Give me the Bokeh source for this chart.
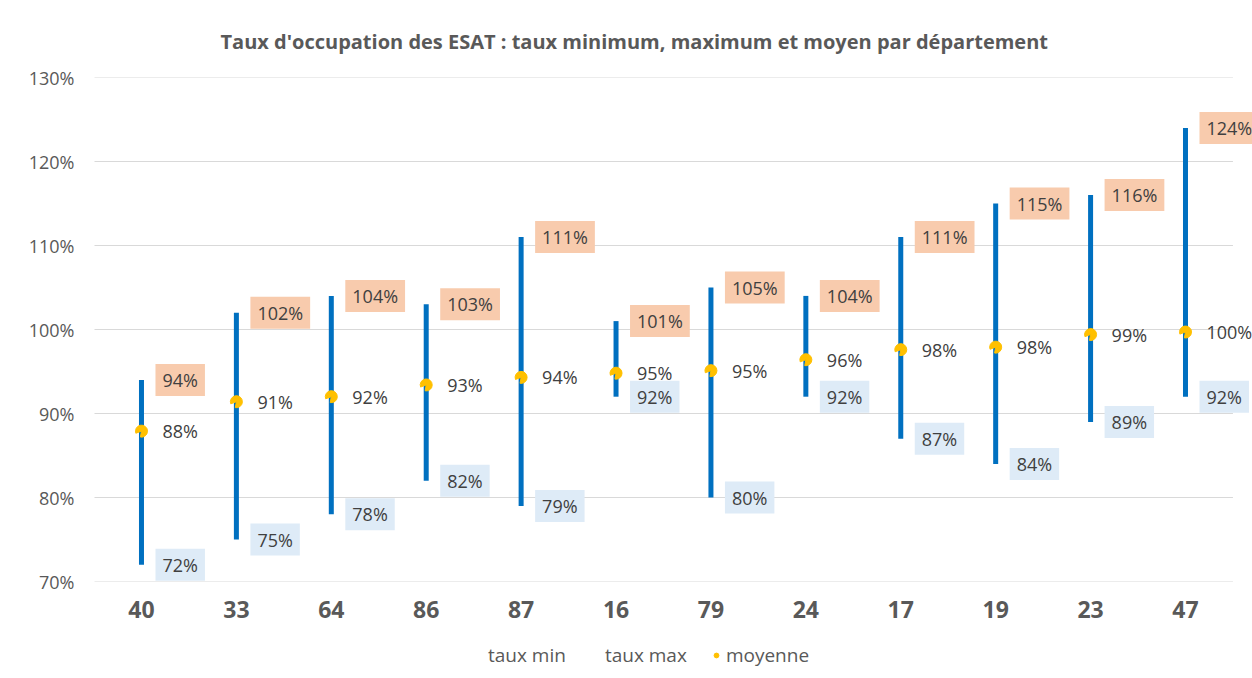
from bokeh.plotting import figure
from bokeh.layouts import column
from bokeh.models import (ColumnDataSource, Legend, LegendItem, NumeralTickFormatter,
                          FixedTicker, Range1d)
from bokeh.embed import file_html
from bokeh.resources import INLINE
from bokeh.core.properties import value
import numpy as np

departements = ["40", "33", "64", "86", "87", "16", "79", "24", "17", "19", "23", "47"]
taux_min = [72, 75, 78, 82, 79, 92, 80, 92, 87, 84, 89, 92]
taux_max = [94, 102, 104, 103, 111, 101, 105, 104, 111, 115, 116, 124]
moyenne = [87.9, 91.4, 92.0, 93.4, 94.3, 94.8, 95.1, 96.4, 97.6, 97.9, 99.4, 99.7]
y_ticks = [70, 80, 90, 100, 110, 120, 130]

FONT = "Open Sans"
GREY = "#595959"
TXT = "#404040"
W = 1252

def pct(v):
    return f"{int(v + 0.5)}%"

n = len(departements)
xs = list(range(n))
src = ColumnDataSource(dict(
    x=xs,
    ymin=np.array(taux_min) / 100,
    ymax=np.array(taux_max) / 100,
    ymean=np.array(moyenne) / 100,
    lmin=[pct(v) for v in taux_min],
    lmax=[pct(v) for v in taux_max],
    lmean=[pct(v) for v in moyenne],
))
grid_src = ColumnDataSource(dict(y=[t / 100 for t in y_ticks],
                                 x0=[-0.5] * len(y_ticks), x1=[n - 0.5] * len(y_ticks)))

p = figure(x_range=Range1d(-0.495, 11.706), y_range=Range1d(0.70, 1.30), width=W, height=625,
           output_backend="svg", toolbar_location=None,
           min_border_left=94, min_border_right=0, min_border_top=77, min_border_bottom=44)

p.title.text = "Taux d'occupation des ESAT : taux minimum, maximum et moyen par département"
p.title.align = "left"
p.title.offset = 126
p.title.standoff = 45
p.title.text_font = FONT
p.title.text_font_size = "20px"
p.title.text_font_style = "bold"
p.title.text_color = GREY
p.outline_line_color = None

p.segment(x0="x0", y0="y", x1="x1", y1="y", source=grid_src, line_color="#D9D9D9",
          line_width=1, level="underlay")
p.segment(x0="x", y0="ymin", x1="x", y1="ymax", source=src, line_width=5, line_color="#0070C0")
w = p.wedge(x="x", y="ymean", radius=6, radius_units="screen", start_angle=-1.75, end_angle=3.5,
            fill_color="#FFC000", line_color="#FFC000", source=src)

common = dict(source=src, text_font=value(FONT), text_font_size="18px", text_color=TXT,
              text_align="left", text_baseline="middle")
p.text(x="x", y="ymax", text="lmax", x_offset=14, background_fill_color="#F8CBAD",
       padding=[7, 4], **common)
p.text(x="x", y="ymin", text="lmin", x_offset=14, background_fill_color="#DEEBF7",
       padding=[7, 4], **common)
p.text(x="x", y="ymean", text="lmean", x_offset=21, **common)

p.yaxis.ticker = FixedTicker(ticks=[t / 100 for t in y_ticks])
p.yaxis.formatter = NumeralTickFormatter(format="0%")
p.xaxis.ticker = FixedTicker(ticks=xs)
p.xaxis.major_label_overrides = {i: d for i, d in zip(xs, departements)}
for ax in (p.xaxis, p.yaxis):
    ax.axis_line_color = None
    ax.major_tick_line_color = None
    ax.minor_tick_line_color = None
    ax.major_label_text_color = GREY
    ax.major_label_text_font = FONT
p.yaxis.major_label_text_font_size = "18px"
p.yaxis.major_label_standoff = 14
p.xaxis.major_label_text_font_size = "23px"
p.xaxis.major_label_text_font_style = "bold"
p.xaxis.major_label_standoff = 13
p.xgrid.grid_line_color = None
p.ygrid.grid_line_color = None

# legend strip
lg = figure(x_range=Range1d(0, 1), y_range=Range1d(0, 1), width=W, height=43,
            output_backend="svg", toolbar_location=None, min_border=0,
            x_axis_location=None, y_axis_location=None)
lg.outline_line_color = None
lg.xgrid.visible = False
lg.ygrid.visible = False
away = ColumnDataSource(dict(x=[-10], y=[-10]))
r_min = lg.scatter(x="x", y="y", source=away, alpha=0, size=1)
r_max = lg.scatter(x="x", y="y", source=away, alpha=0, size=1)
r_moy = lg.scatter(x="x", y="y", source=away, marker="circle", size=11,
                   fill_color="#FFC000", line_color="#FFC000")
legend = Legend(items=[LegendItem(label="taux min", renderers=[r_min]),
                       LegendItem(label="taux max", renderers=[r_max]),
                       LegendItem(label="moyenne", renderers=[r_moy])],
                orientation="horizontal", location=(378, 0),
                label_text_font=FONT, label_text_font_size="19px", label_text_color=GREY,
                glyph_width=12, glyph_height=12, label_standoff=4, spacing=23,
                padding=0, margin=0,
                border_line_color=None, background_fill_alpha=0)
lg.add_layout(legend)

layout = column(p, lg, spacing=0)
open("out.html", "w").write(file_html(layout, INLINE))
